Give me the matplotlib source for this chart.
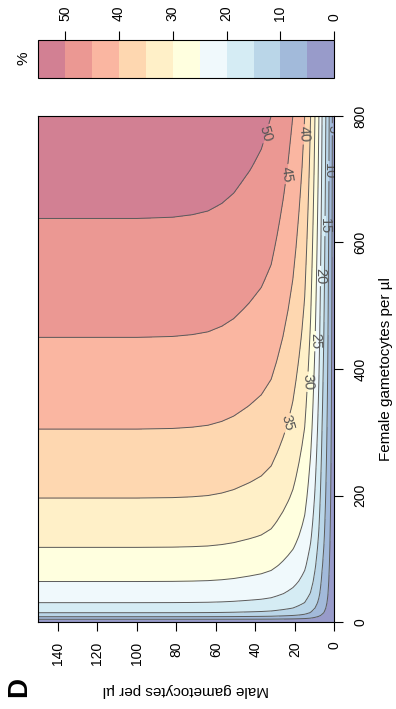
import numpy as np
import matplotlib
matplotlib.use('Agg')
import matplotlib.pyplot as plt
from matplotlib.colors import to_rgb

plt.rcParams['font.family'] = ['Liberation Sans', 'DejaVu Sans']

# percent along the left edge (male = 150/ul)
female = [0, 2, 4.3, 6, 8.4, 11, 14.7, 22, 30.6, 45, 64, 90, 118, 135, 155,
          175, 196, 222, 250, 277, 305, 340, 375, 410, 450, 495, 540, 590,
          638, 680, 720, 760, 800]
pct_female = [0, 2.5, 5, 7.5, 10, 12.5, 15, 17.8, 20, 22.6, 25, 27.6, 30, 31.3,
              32.6, 33.8, 35, 36.3, 37.6, 38.8, 40, 41.3, 42.5, 43.7, 45, 46.3,
              47.5, 48.8, 50, 51.0, 51.9, 52.7, 53.5]

# percent along the top edge (female = 800/ul)
male = [0, 0.4, 1.0, 1.8, 2.6, 3.4, 4.3, 5.2, 6.2, 7.0, 7.8, 8.8, 9.8, 10.9,
        12, 13.5, 15, 16.4, 17.8, 19.4, 21, 23.5, 26, 29, 32, 34.5, 37, 40,
        43, 47, 51, 57, 64, 72, 82, 100, 120, 150]
pct_male = [0, 2, 5, 7.5, 10, 12.5, 15, 17.5, 20, 22.5, 25, 27.5, 30, 32.5,
            35, 37.5, 40, 41.3, 42.5, 43.8, 45, 46.3, 47.5, 48.8, 50, 50.5,
            51.0, 51.35, 51.7, 52.1, 52.5, 52.9, 53.2, 53.35, 53.45, 53.5,
            53.5, 53.5]

levels = list(range(0, 60, 5))
cbar_ticks = [0, 10, 20, 30, 40, 50]
male_ticks = [0, 20, 40, 60, 80, 100, 120, 140]
female_ticks = [0, 200, 400, 600, 800]

# where the contour labels sit (male, female)
label_pos = [(33.4, 771), (24, 708), (15.7, 771), (24, 315), (14, 380),
             (9.8, 444), (6.4, 547), (3.8, 626), (2.2, 713), (1.3, 779)]

palette = ['#313695', '#4575b4', '#74add1', '#abd9e9', '#e0f3f8', '#ffffbf',
           '#fee090', '#fdae61', '#f46d43', '#d73027', '#a50026']

# surface table: female profile scaled by male profile
Z = np.outer(pct_female, pct_male) / pct_female[-1]

fig = plt.figure(figsize=(3.96, 7.09), dpi=100)
ax = fig.add_axes([0.0967, 0.1227, 0.7475, 0.7137])
cax = fig.add_axes([0.0967, 0.8896, 0.7475, 0.054])

colors = [tuple(0.5 * c + 0.5 for c in to_rgb(h)) for h in palette]
cf = ax.contourf(male, female, Z, levels=levels, colors=colors)
cs = ax.contour(male, female, Z, levels=levels[1:-1], colors='#5a5a5a', linewidths=0.7)
ax.clabel(cs, manual=label_pos, inline=True, fontsize=10.5, fmt='%d',
          colors='#555555', inline_spacing=2)

ax.set_xlim(150, 0)
ax.set_ylim(0, 800)
ax.set_xticks(male_ticks)
ax.set_yticks(female_ticks)
ax.yaxis.tick_right()
ax.tick_params(axis='both', length=6.5, width=0.8, labelsize=10, pad=7.5)
ax.tick_params(axis='x', labelrotation=90)
ax.tick_params(axis='y', labelrotation=90)
for lbl in ax.get_yticklabels():
    lbl.set_va('center')
for sp in ax.spines.values():
    sp.set_linewidth(0.8)

cb = fig.colorbar(cf, cax=cax, orientation='horizontal', drawedges=True)
cb.dividers.set_color('black')
cb.dividers.set_linewidth(0.8)
cb.outline.set_linewidth(0.8)
cax.invert_xaxis()
cax.xaxis.set_ticks_position('top')
cax.set_xticks(cbar_ticks)
cax.tick_params(axis='x', length=6.5, width=0.8, labelsize=10, pad=7, labelrotation=90)

fig.text(23.3 / 396, 1 - 58 / 709, '%', rotation=90, fontsize=11, ha='center', va='center')
fig.text(186.3 / 396, 1 - 690 / 709, 'Male gametocytes per µl', rotation=180,
         fontsize=11, ha='center', va='center')
fig.text(379 / 396, 1 - 369.5 / 709, 'Female gametocytes per µl', rotation=90,
         fontsize=11, ha='left', va='center')
fig.text(19 / 396, 1 - 687 / 709, 'D', rotation=90, fontsize=20, fontweight='bold',
         ha='center', va='center')

fig.savefig('out.png', dpi=100)
